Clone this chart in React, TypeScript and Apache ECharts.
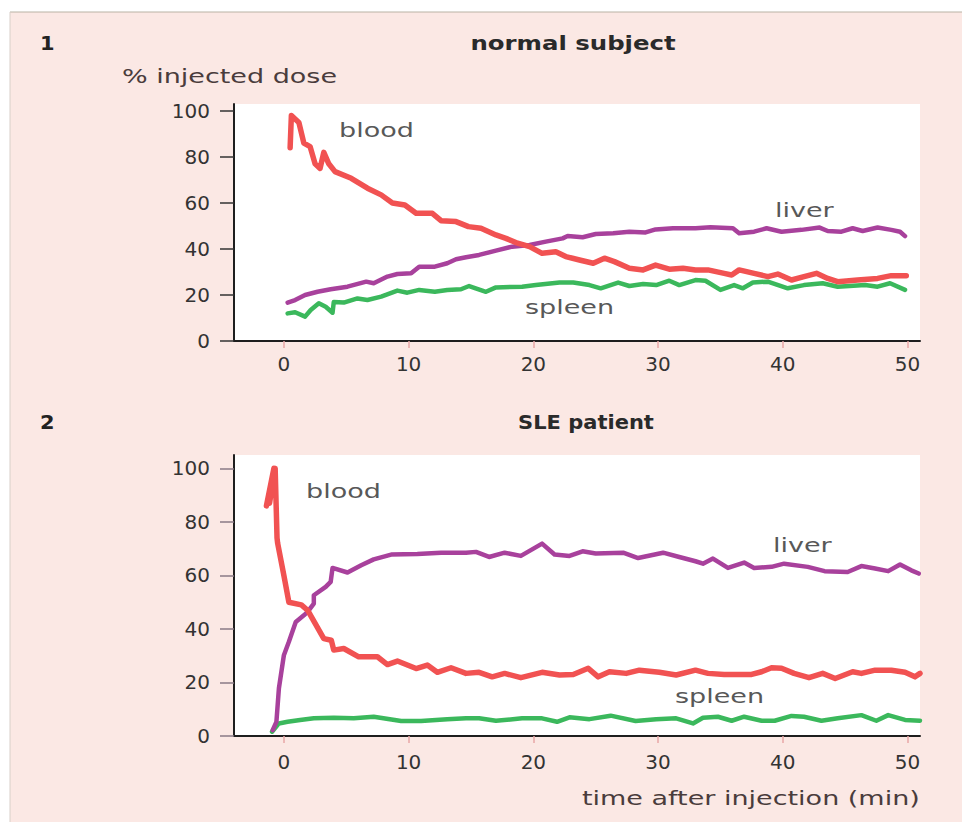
import React, { useEffect, useRef } from "react";
import * as echarts from "echarts";

// ---- data (minutes, % injected dose) ----
const xTicks = [0, 10, 20, 30, 40, 50];
const yTicks = [0, 20, 40, 60, 80, 100];

const normalBlood = [
  [0.5, 84], [0.6, 98], [1.2, 95], [1.6, 86], [2.1, 84.5], [2.5, 77], [2.9, 75], [3.2, 82], [3.6, 77],
  [4.1, 73.6], [5.4, 70.7], [6.7, 66.4], [7.8, 63.5], [8.7, 60], [9.7, 59.1], [10.6, 55.5], [11.9, 55.5],
  [12.6, 52.3], [13.8, 51.9], [14.8, 49.7], [15.8, 49], [17, 46.1], [17.8, 44.6], [18.6, 42.8], [19.7, 41],
  [20.7, 38.1], [21.8, 38.8], [22.6, 36.7], [23.7, 35.2], [24.8, 33.8], [25.7, 36], [26.5, 34.5], [27.7, 31.6],
  [28.8, 30.9], [29.8, 33], [30.9, 31.2], [32, 31.6], [33, 30.9], [34, 30.9], [35.3, 29.4], [35.9, 28.7],
  [36.5, 30.9], [37.7, 29.4], [38.8, 28], [39.6, 29.1], [40.7, 26.5], [41.7, 28], [42.7, 29.4], [43.6, 27.2],
  [44.4, 25.8], [46, 26.5], [47.6, 27.2], [48.7, 28.4], [49.9, 28.4],
];
const normalLiver = [
  [0.3, 16.7], [0.9, 17.8], [1.7, 20], [2.7, 21.4], [3.75, 22.5], [5.1, 23.6], [6.6, 25.8], [7.2, 25.1],
  [8.3, 28], [9.1, 29.1], [10.2, 29.4], [10.85, 32.3], [12.1, 32.3], [13.1, 33.8], [13.8, 35.5], [14.6, 36.4],
  [15.65, 37.4], [17, 39.3], [18.3, 41], [19.7, 41.7], [21, 43.2], [22.35, 44.6], [22.75, 45.6], [23.95, 45.1],
  [25, 46.5], [26.4, 46.8], [27.7, 47.5], [29, 47.2], [29.8, 48.5], [31.2, 49], [33, 49], [34.2, 49.4],
  [36, 49], [36.5, 46.8], [37.7, 47.5], [38.7, 49], [39.9, 47.5], [41.5, 48.3], [42.95, 49.3], [43.6, 47.8],
  [44.7, 47.5], [45.6, 49], [46.4, 47.8], [47.6, 49.3], [48.7, 48.3], [49.4, 47.5], [49.8, 45.6],
];
const normalSpleen = [
  [0.3, 12], [0.9, 12.5], [1.7, 10.6], [2.15, 13.5], [2.8, 16.4], [3.35, 14.9], [3.9, 12.3], [4.0, 17],
  [4.8, 16.7], [5.9, 18.5], [6.7, 17.8], [7.8, 19.3], [9.1, 21.9], [9.9, 21], [10.85, 22.2], [12.1, 21.4],
  [13.1, 22.2], [14.2, 22.5], [14.85, 23.9], [16.2, 21.4], [17, 23.3], [19.1, 23.6], [20.2, 24.3], [22.1, 25.4],
  [23.2, 25.4], [24.5, 24.3], [25.4, 22.9], [26.8, 25.4], [27.7, 23.9], [28.8, 24.8], [29.85, 24.3], [30.9, 26.2],
  [31.7, 24.3], [33, 26.5], [33.8, 26.2], [35, 22.2], [36.1, 24.3], [36.8, 22.9], [37.6, 25.4], [38.8, 25.8],
  [40.4, 22.9], [41.7, 24.3], [43.2, 25.1], [44.4, 23.6], [46.6, 24.3], [47.6, 23.6], [48.6, 25.1], [49.8, 22.2],
];

const sleBlood = [
  [-1.4, 86], [-0.8, 100], [-1.15, 87], [-0.7, 100], [-0.55, 74], [-0.5, 72], [0, 60], [0.4, 50], [1.4, 49],
  [1.9, 47], [3.2, 36.4], [3.8, 35.8],
  [4.0, 32.1], [4.8, 32.7], [6, 29.6], [7.5, 29.6], [8.3, 26.7], [9.1, 28], [10.6, 25.2], [11.5, 26.5],
  [12.3, 23.8], [13.4, 25.5], [14.6, 23.4], [15.65, 23.8], [16.7, 22.1], [17.7, 23.4], [19, 21.8], [20.7, 23.8],
  [22.1, 22.8], [23.2, 23], [24.4, 25.3], [25.2, 22.1], [26.1, 24], [27.45, 23.4], [28.5, 24.6], [30.1, 23.8],
  [31.45, 22.8], [33, 24.6], [34, 23.4], [35.3, 23], [37.5, 23], [38.3, 24], [39.1, 25.5], [39.9, 25.3],
  [40.9, 23.4], [42.1, 21.8], [43.2, 23.4], [44.2, 21.5], [45.6, 24], [46.3, 23.4], [47.4, 24.6], [48.7, 24.6],
  [49.8, 23.8], [50.6, 22.1], [51, 23.4],
];
const sleLiver = [
  [-0.9, 2.2], [-0.6, 5.3], [-0.4, 17.8], [0, 30.2], [0.4, 35.2], [0.95, 42.6], [1.6, 45.1], [1.9, 46.4],
  [2.4, 49.5], [2.4, 52.6], [3.35, 55.7], [3.75, 57.6], [3.9, 62.8], [5.1, 61.1], [6.2, 63.8], [7.2, 66],
  [8.6, 67.8], [10.7, 68], [12.6, 68.5], [14.6, 68.5], [15.4, 68.8], [16.45, 66.9], [17.7, 68.5], [19, 67.3],
  [20.7, 71.9], [21.7, 67.8], [22.9, 67.3], [23.95, 69], [25, 68.2], [27.2, 68.5], [28.4, 66.5], [30.4, 68.5],
  [31.7, 66.9], [33, 65.3], [33.6, 64.4], [34.4, 66.3], [35.6, 62.8], [36.9, 64.8], [37.7, 62.8], [39.1, 63.2],
  [40.1, 64.4], [42, 63.2], [43.35, 61.6], [45.2, 61.3], [46.3, 63.5], [47.4, 62.6], [48.45, 61.6], [49.4, 64.1],
  [50.3, 61.9], [50.9, 60.7],
];
const sleSpleen = [
  [-0.95, 1.6], [-0.4, 4.7], [0.3, 5.3], [1.3, 6], [2.4, 6.6], [4, 6.8], [5.6, 6.6], [7.2, 7.2], [9.4, 5.6],
  [11, 5.6], [13.1, 6.3], [14.6, 6.6], [15.65, 6.6], [17, 5.7], [19.1, 6.6], [20.7, 6.6], [21.9, 5.3],
  [22.9, 7], [24.5, 6.3], [26.2, 7.6], [28.2, 5.6], [29.85, 6.3], [31.45, 6.6], [32.8, 4.7], [33.6, 6.8],
  [34.8, 7.2], [35.9, 5.7], [36.9, 7.2], [38.3, 5.7], [39.35, 5.7], [40.7, 7.5], [41.7, 7.2], [43.1, 5.7],
  [44.4, 6.6], [46.3, 7.8], [47.5, 5.7], [48.45, 7.8], [49.8, 6], [51, 5.7],
];

const FONT = "DejaVu Sans";
const BLOOD = "#f15252";
const LIVER = "#a8419c";
const SPLEEN = "#3bb85c";

function label(text: string, x: number, y: number, opts: any = {}) {
  const align = opts.align || "left";
  return {
    type: "text",
    x,
    y,
    scaleX: opts.scaleX ?? 1.35,
    style: {
      text,
      fontFamily: FONT,
      fontSize: opts.size || 20,
      fontWeight: opts.weight || "normal",
      fill: opts.color || "#585858",
      align,
      verticalAlign: "middle",
      textAlign: align,
      textVerticalAlign: "middle",
    },
  };
}

export default function App() {
  const ref = useRef<HTMLDivElement>(null);
  useEffect(() => {
    document.body.style.margin = "0";
    const chart = echarts.init(ref.current!, null, { renderer: "svg" });
    const xAxis = (i: number) => ({
      type: "value",
      gridIndex: i,
      min: -4,
      max: 51,
      axisLine: { onZero: false, lineStyle: { color: "#1e1e1e", width: 2 } },
      axisTick: { show: true, customValues: xTicks, length: 7, lineStyle: { color: "#e9a7a7", width: 1.5 } },
      axisLabel: { customValues: xTicks, margin: i ? 16 : 13, fontSize: 20, fontFamily: FONT, color: "#333" },
      splitLine: { show: false },
    });
    const yAxis = (i: number, max: number) => ({
      type: "value",
      gridIndex: i,
      min: 0,
      max,
      axisLine: { show: true, onZero: false, lineStyle: { color: "#1e1e1e", width: 2 } },
      axisTick: { show: true, customValues: yTicks, length: 14, lineStyle: { color: i ? "#8a7a86" : "#333", width: 1.5 } },
      axisLabel: { customValues: yTicks, margin: 24, fontSize: 20, fontFamily: FONT, color: "#333" },
      splitLine: { show: false },
    });
    const line = (data: number[][], color: string, width: number, idx: number) => ({
      type: "line",
      xAxisIndex: idx,
      yAxisIndex: idx,
      data,
      showSymbol: false,
      symbol: "none",
      lineStyle: { color, width, join: "round", cap: "round" },
      silent: true,
    });
    chart.setOption({
      animation: false,
      backgroundColor: "#fbe8e4",
      grid: [
        { left: 234, top: 104, width: 686, height: 237, show: true, backgroundColor: "#ffffff", borderWidth: 0 },
        { left: 234, top: 455, width: 686, height: 281, show: true, backgroundColor: "#ffffff", borderWidth: 0 },
      ],
      xAxis: [xAxis(0), xAxis(1)],
      yAxis: [yAxis(0, 103), yAxis(1, 105)],
      series: [
        line(normalSpleen, SPLEEN, 4.5, 0),
        line(normalLiver, LIVER, 4.5, 0),
        line(normalBlood, BLOOD, 5.5, 0),
        line(sleSpleen, SPLEEN, 4.5, 1),
        line(sleLiver, LIVER, 4.5, 1),
        line(sleBlood, BLOOD, 5.5, 1),
      ],
      graphic: [
        { type: "rect", shape: { x: 0, y: 0, width: 962, height: 12 }, style: { fill: "#ffffff" } },
        { type: "rect", shape: { x: 0, y: 0, width: 10, height: 822 }, style: { fill: "#ffffff" } },
        { type: "line", shape: { x1: 10, y1: 12, x2: 962, y2: 12 }, style: { stroke: "#b9b2a4", lineWidth: 1 } },
        { type: "line", shape: { x1: 10, y1: 12, x2: 10, y2: 822 }, style: { stroke: "#d8cfc8", lineWidth: 1 } },
        label("1", 40, 43, { weight: "bold", size: 19, color: "#222", scaleX: 1.1 }),
        label("normal subject", 573, 43, { weight: "bold", color: "#2a2a2a", align: "center", scaleX: 1.22 }),
        label("% injected dose", 122, 76, { color: "#4a3c3c" }),
        label("blood", 339, 130),
        label("liver", 775, 210),
        label("spleen", 525, 307),
        label("2", 40, 422, { weight: "bold", size: 19, color: "#222", scaleX: 1.1 }),
        label("SLE patient", 586, 422, { weight: "bold", color: "#2a2a2a", align: "center", scaleX: 1.05 }),
        label("blood", 306, 491),
        label("liver", 773, 545),
        label("spleen", 675, 696),
        label("time after injection (min)", 582, 798, { color: "#4a3c3c" }),
      ],
    });
    return () => chart.dispose();
  }, []);
  return <div ref={ref} style={{ width: 962, height: 822 }} />;
}
